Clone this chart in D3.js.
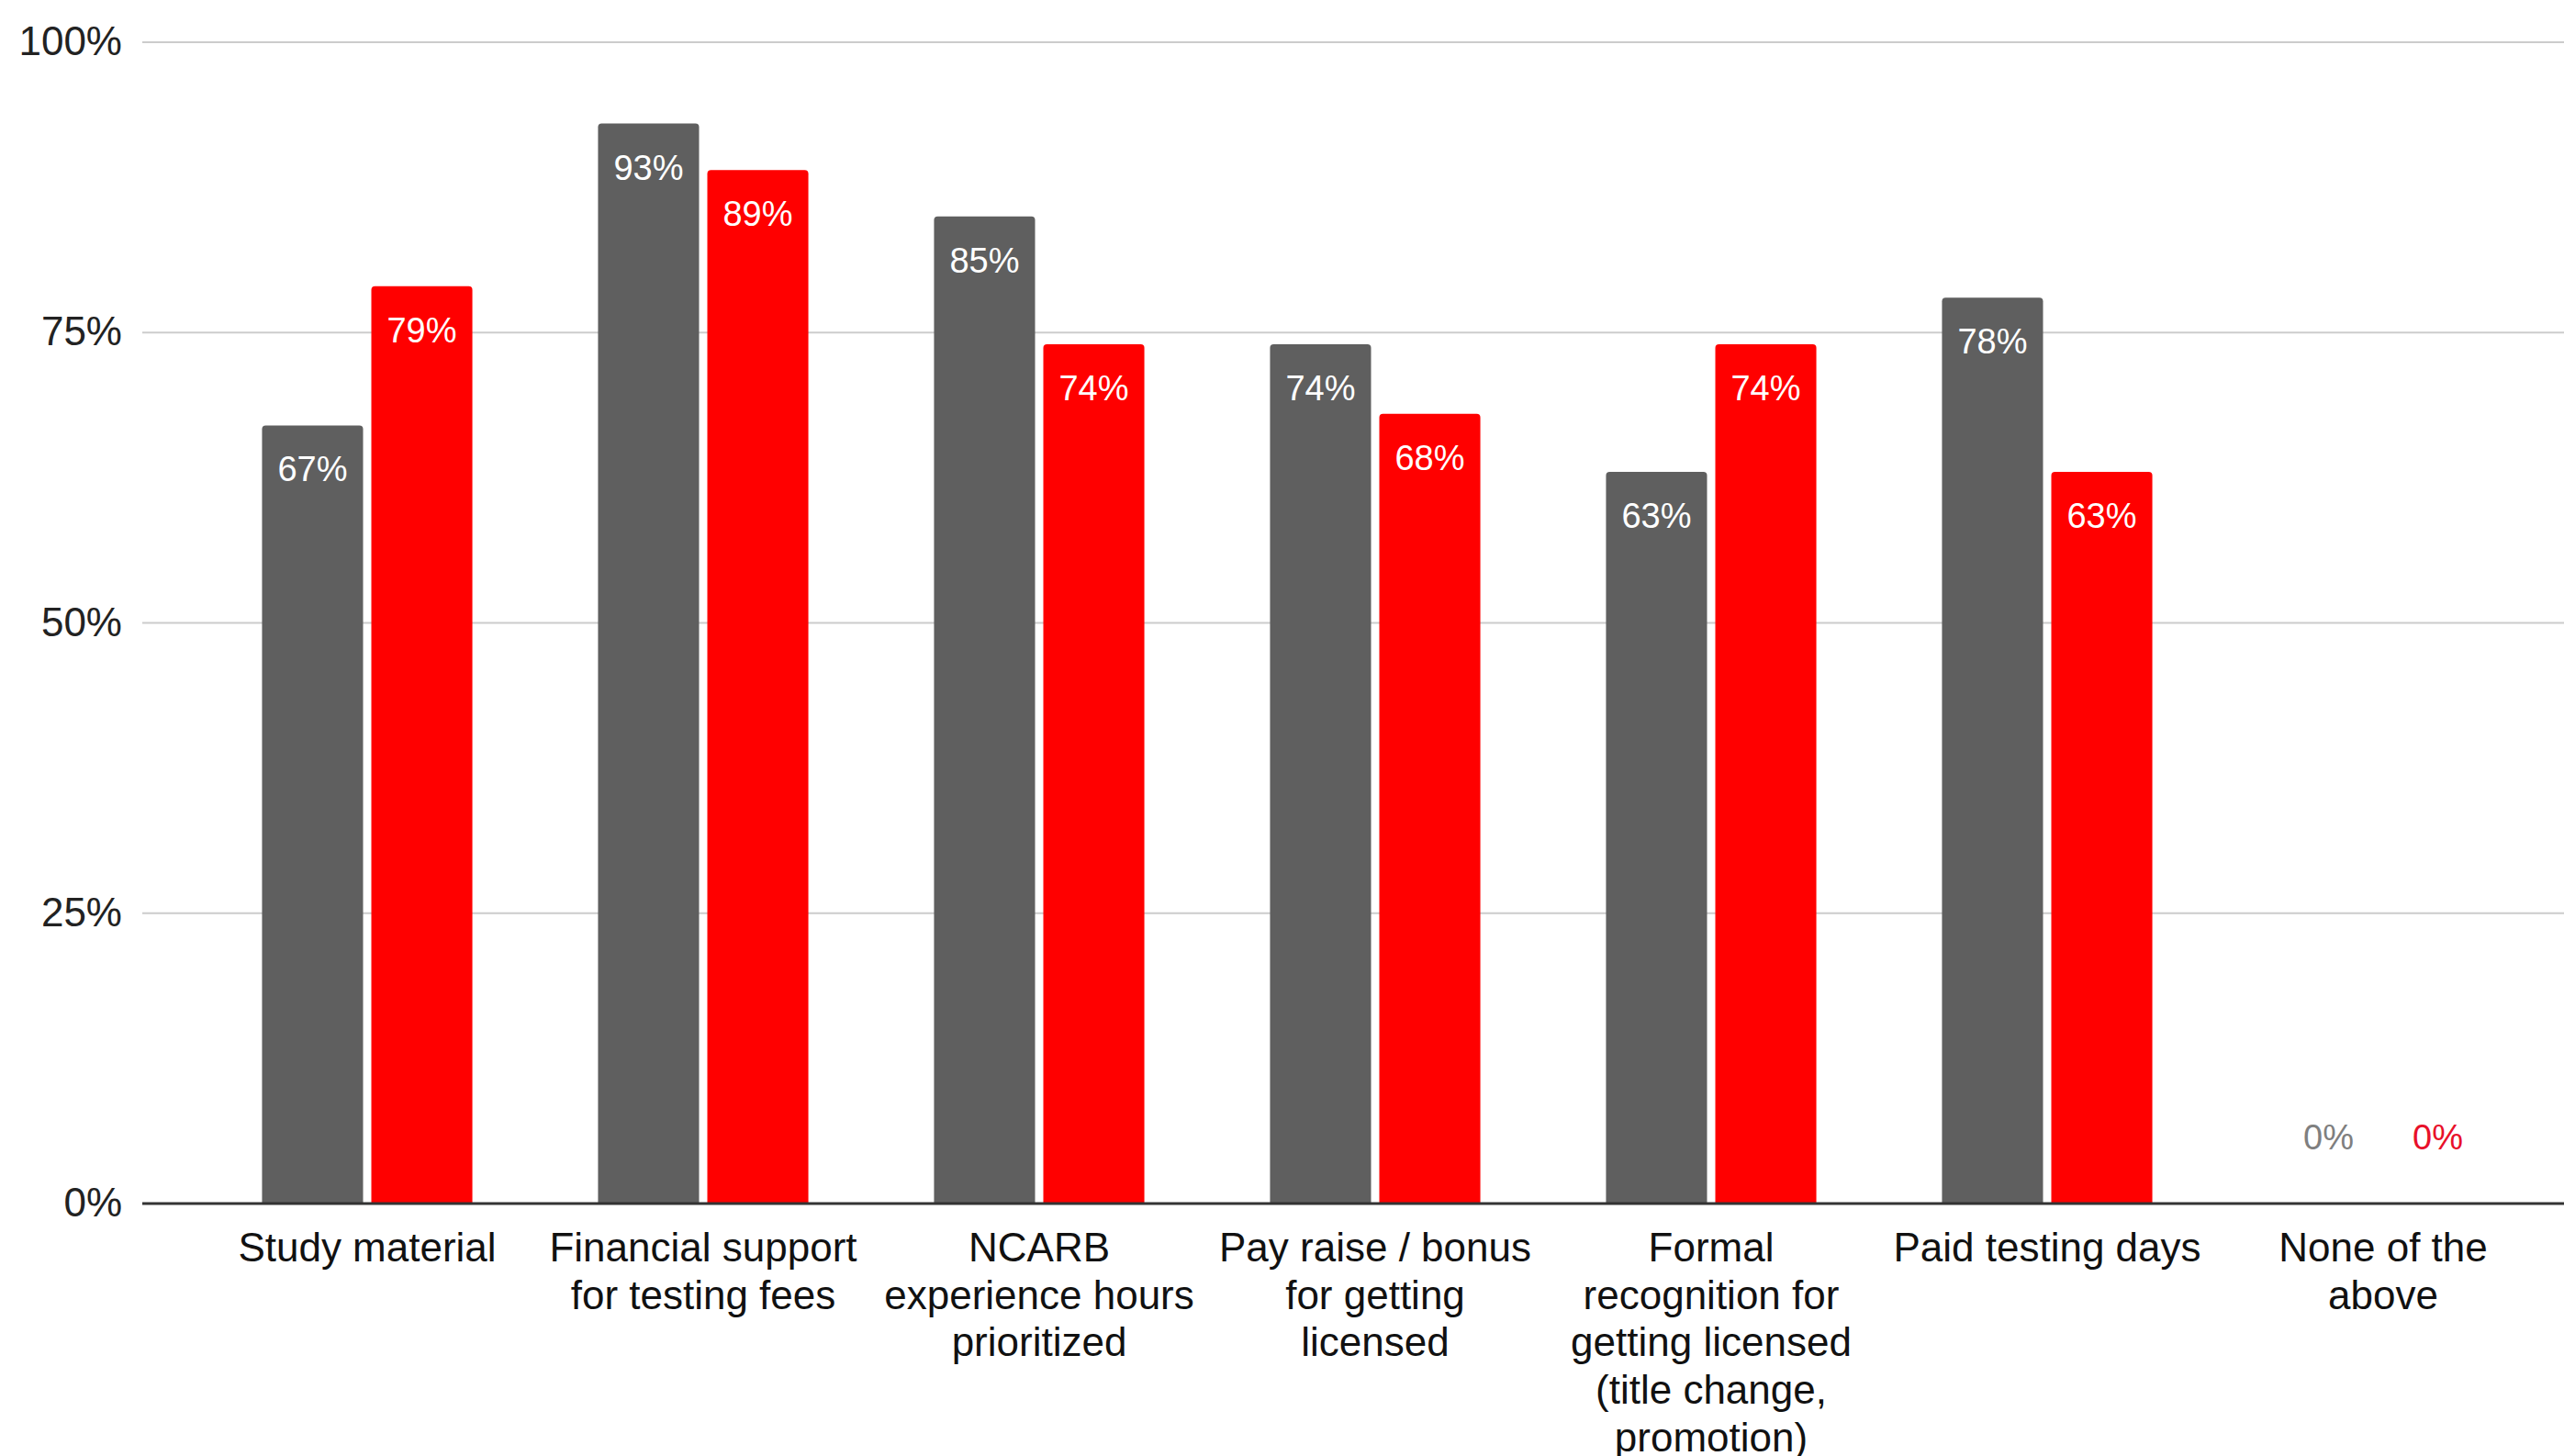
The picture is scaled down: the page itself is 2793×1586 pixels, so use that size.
<!DOCTYPE html>
<html>
<head>
<meta charset="utf-8">
<script src="https://cdn.jsdelivr.net/npm/d3@7"></script>
<style>
html, body { margin: 0; padding: 0; background: #ffffff; }
svg { display: block; font-family: "Liberation Sans", Arial, sans-serif; }
</style>
</head>
<body>
<script>
// ---- data ----
const categories = [
  "Study material",
  "Financial support for testing fees",
  "NCARB experience hours prioritized",
  "Pay raise / bonus for getting licensed",
  "Formal recognition for getting licensed (title change, promotion)",
  "Paid testing days",
  "None of the above"
];
const categoryLines = [
  ["Study material"],
  ["Financial support", "for testing fees"],
  ["NCARB", "experience hours", "prioritized"],
  ["Pay raise / bonus", "for getting", "licensed"],
  ["Formal", "recognition for", "getting licensed", "(title change,", "promotion)"],
  ["Paid testing days"],
  ["None of the", "above"]
];
const seriesNames = ["Series A", "Series B"];
const seriesA = [67, 93, 85, 74, 63, 78, 0];
const seriesB = [79, 89, 74, 68, 74, 63, 0];
const yTicks = [0, 25, 50, 75, 100];
const yTickLabels = ["0%", "25%", "50%", "75%", "100%"];

// ---- styles ----
const W = 2793, H = 1586;
const barColors = ["#5f5f5f", "#ff0000"];
const outsideLabelColors = ["#7f7f7f", "#e8102a"];

const svg = d3.select("body").append("svg").attr("width", W).attr("height", H);

const y = d3.scaleLinear().domain([0, 100]).range([1311, 46]);
const x = d3.scaleBand().domain(categories).range([217, 217 + 7 * 366]).paddingInner(0.374).paddingOuter(0.187);
const xs = d3.scaleBand().domain(seriesNames).range([0, x.bandwidth()]).paddingInner(9 / 119);

const plotLeft = 155;

// gridlines
svg.append("g").selectAll("line").data(yTicks.filter(t => t > 0)).join("line")
  .attr("x1", plotLeft).attr("x2", W)
  .attr("y1", d => y(d)).attr("y2", d => y(d))
  .attr("stroke", "#cccccc").attr("stroke-width", 2);

// y tick labels
svg.append("g").selectAll("text").data(yTicks).join("text")
  .attr("x", 133).attr("y", d => y(d) + 14)
  .attr("text-anchor", "end")
  .attr("font-size", 44).attr("fill", "#222222")
  .text((d, i) => yTickLabels[i]);

// bars
const data = [];
categories.forEach((c, i) => {
  data.push({ cat: c, s: 0, v: seriesA[i] });
  data.push({ cat: c, s: 1, v: seriesB[i] });
});

function barPath(x0, y0, w, h, r) {
  if (h <= 0) return "";
  r = Math.min(r, h, w / 2);
  return `M${x0},${y0 + h}V${y0 + r}Q${x0},${y0} ${x0 + r},${y0}H${x0 + w - r}Q${x0 + w},${y0} ${x0 + w},${y0 + r}V${y0 + h}Z`;
}

svg.append("g").selectAll("path").data(data).join("path")
  .attr("d", d => {
    const bx = x(d.cat) + xs(seriesNames[d.s]);
    const by = y(d.v);
    return barPath(bx, by, xs.bandwidth(), y(0) - by, 4);
  })
  .attr("fill", d => barColors[d.s]);

// baseline
svg.append("line")
  .attr("x1", plotLeft).attr("x2", W)
  .attr("y1", y(0)).attr("y2", y(0))
  .attr("stroke", "#333333").attr("stroke-width", 3);

// value labels
svg.append("g").selectAll("text").data(data).join("text")
  .attr("x", d => x(d.cat) + xs(seriesNames[d.s]) + xs.bandwidth() / 2)
  .attr("y", d => (y(0) - y(d.v) > 80) ? y(d.v) + 48 + 13 : y(d.v) - 72 + 13)
  .attr("text-anchor", "middle")
  .attr("font-size", 38)
  .attr("fill", d => (y(0) - y(d.v) > 80) ? "#ffffff" : outsideLabelColors[d.s])
  .text(d => d.v + "%");

// category labels
const xl = svg.append("g").selectAll("text").data(categories).join("text")
  .attr("text-anchor", "middle")
  .attr("font-size", 44).attr("fill", "#111111");
xl.each(function (c, i) {
  const t = d3.select(this);
  categoryLines[i].forEach((line, j) => {
    t.append("tspan")
      .attr("x", x(c) + x.bandwidth() / 2)
      .attr("y", 1374 + j * 51.7)
      .text(line);
  });
});
</script>
</body>
</html>
